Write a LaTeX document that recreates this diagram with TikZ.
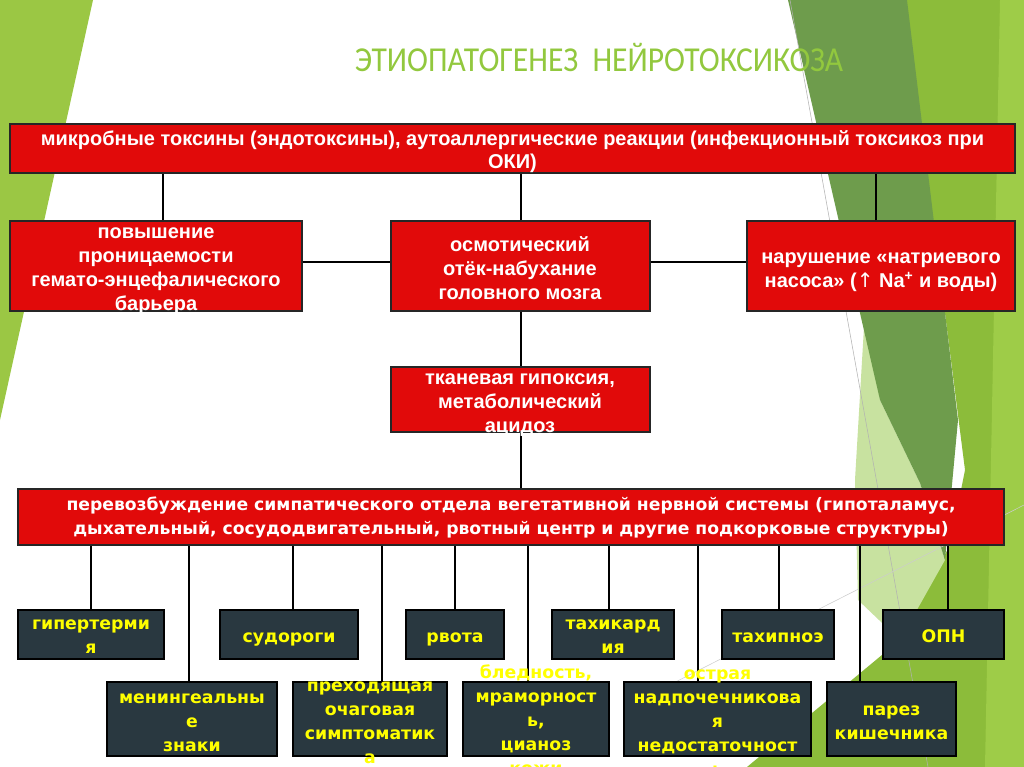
\documentclass[tikz,border=0pt]{standalone}
\usepackage{fontspec}
\usepackage{graphicx}
\usetikzlibrary{fit,calc}
\setmainfont{Liberation Sans}
\newfontfamily\dvfont{DejaVu Sans}
\newfontfamily\carfont{Carlito}
\definecolor{boxred}{RGB}{225,10,10}
\definecolor{boxdark}{RGB}{41,56,64}
\definecolor{ttlgreen}{RGB}{146,200,62}
\definecolor{bgA}{RGB}{155,199,68}
\definecolor{bgDark}{RGB}{110,156,76}
\definecolor{bgBright}{RGB}{140,188,58}
\definecolor{bgLight}{RGB}{158,204,72}
\definecolor{bgPale}{RGB}{200,226,160}
\definecolor{txtyellow}{RGB}{255,255,0}
\newcommand\vconn[3]{\coordinate (tmpc) at ($(#2.north)+(#3,0)$);
  \draw[conn] (tmpc) -- (tmpc |- #1.south);}
\begin{document}
\begin{tikzpicture}[x=0.75pt,y=-0.75pt,
  redbox/.style={draw=black!85, line width=0.9pt, fill=boxred, inner sep=0pt},
  darkbox/.style={draw=black, line width=0.9pt, fill=boxdark, inner sep=0pt},
  redtxt/.style={text=white, font=\bfseries\fontsize{15pt}{18pt}\selectfont, align=center, inner sep=0pt},
  toptxt/.style={text=white, font=\bfseries\fontsize{15pt}{17.5pt}\selectfont, align=center, inner sep=0pt},
  widetxt/.style={text=white, font=\dvfont\bfseries\fontsize{12.9pt}{18pt}\selectfont, align=center, inner sep=0pt},
  yeltxt/.style={text=txtyellow, font=\dvfont\bfseries\fontsize{13pt}{18pt}\selectfont, align=center, inner sep=0pt},
  conn/.style={draw=black, line width=1.5pt}
]
\useasboundingbox (0,0) rectangle (1024,767);
\fill[white] (0,0) rectangle (1024,767);
% background facets
\fill[bgA] (0,0) -- (93,0) -- (0,420) -- cycle;
\fill[bgBright] (905,0) -- (1024,0) -- (1024,767) -- (747,767) -- (900,640) -- (950,545) -- (965,470) -- cycle;
\fill[bgLight] (1000,0) -- (1024,0) -- (1024,767) -- (985,767) -- cycle;
\fill[bgPale] (865,310) -- (880,400) -- (920,483) -- (945,560) -- (900,640) -- (858,600) -- (855,480) -- cycle;
\fill[bgDark] (788,0) -- (907,0) -- (958,420) -- (945,560) -- (920,483) -- (880,400) -- cycle;
\draw[gray!60, line width=0.4pt] (790,0) -- (928,767);
\draw[gray!40, line width=0.4pt] (640,700) -- (1024,505);

% title
\node[anchor=base, text=ttlgreen, inner sep=0pt] (title) at (599,72)
  {\resizebox{366pt}{\height}{\carfont\fontsize{26.25pt}{30pt}\selectfont ЭТИОПАТОГЕНЕЗ\ \ НЕЙРОТОКСИКОЗА}};

% boxes (shapes)
\node[redbox, fit={(10,124)(1015,173)}] (top) {};
\node[redbox, fit={(10,221)(302,311)}] (pl) {};
\node[redbox, fit={(391,221)(650,311)}] (pm) {};
\node[redbox, fit={(747,221)(1015,311)}] (pr) {};
\node[redbox, fit={(391,367)(650,432)}] (hyp) {};
\node[redbox, fit={(18,489)(1004,545)}] (wide) {};

\node[darkbox, fit={(18,610)(164,659)}] (b1) {};
\node[darkbox, fit={(220,610)(358,659)}] (b2) {};
\node[darkbox, fit={(406,610)(504,659)}] (b3) {};
\node[darkbox, fit={(552,610)(674,659)}] (b4) {};
\node[darkbox, fit={(722,610)(834,659)}] (b5) {};
\node[darkbox, fit={(883,610)(1004,659)}] (b6) {};

\node[darkbox, fit={(107,682)(277,756)}] (c1) {};
\node[darkbox, fit={(293,682)(447,756)}] (c2) {};
\node[darkbox, fit={(463,682)(609,756)}] (c3) {};
\node[darkbox, fit={(624,682)(811,756)}] (c4) {};
\node[darkbox, fit={(827,682)(956,756)}] (c5) {};

% connectors
\vconn{top}{pl}{7}
\vconn{top}{pm}{0}
\vconn{top}{pr}{-5}
\draw[conn] ($(pl.east)+(0,-4)$) -- ($(pm.west)+(0,-4)$);
\draw[conn] ($(pm.east)+(0,-4)$) -- ($(pr.west)+(0,-4)$);
\draw[conn] (pm.south) -- (hyp.north);
\draw[conn] (hyp.south) -- (hyp.south |- wide.north);
\vconn{wide}{b1}{0}
\vconn{wide}{c1}{-3}
\vconn{wide}{b2}{4}
\vconn{wide}{c2}{12}
\vconn{wide}{b3}{0}
\vconn{wide}{c3}{-8}
\vconn{wide}{b4}{-4}
\vconn{wide}{c4}{-20}
\vconn{wide}{b5}{1}
\vconn{wide}{c5}{-32}
\vconn{wide}{b6}{4}

% texts
\node[toptxt] (topt) at ($(top.center)+(0,3)$) {микробные токсины (эндотоксины), аутоаллергические реакции (инфекционный токсикоз при\\ОКИ)};
\node[redtxt] (plt) at (156,271) {повышение\\проницаемости\\гемато-энцефалического\\барьера};
\node[redtxt] (pmt) at (520,268) {осмотический\\отёк-набухание\\головного мозга};
\node[redtxt] (prt) at (881,272) {нарушение «натриевого\\насоса» ({\dvfont\mdseries↑} Na\textsuperscript{+} и воды)};
\node[redtxt] (hypt) at (520,405) {тканевая гипоксия,\\метаболический\\ацидоз};
\node[widetxt] (widet) at (511,518) {перевозбуждение симпатического отдела вегетативной нервной системы (гипоталамус,\\дыхательный, сосудодвигательный, рвотный центр и другие подкорковые структуры)};

\node[yeltxt] at ($(b1.center)+(0,2.5)$) {гипертерми\\я};
\node[yeltxt] at ($(b2.center)+(0,5)$) {судороги};
\node[yeltxt] at ($(b3.center)+(0,5)$) {рвота};
\node[yeltxt] at ($(b4.center)+(0,2.5)$) {тахикард\\ия};
\node[yeltxt] at ($(b5.center)+(0,3)$) {тахипноэ};
\node[yeltxt] at ($(b6.center)+(0,2)$) {ОПН};

\node[yeltxt] at ($(c1.center)+(0,4)$) {менингеальны\\е\\знаки};
\node[yeltxt] at ($(c2.center)+(0,4)$) {преходящая\\очаговая\\симптоматик\\а};
\node[yeltxt] at ($(c3.center)+(0,1)$) {бледность,\\мраморност\\ь,\\цианоз\\кожи};
\node[yeltxt] at ($(c4.center)+(0,4)$) {острая\\надпочечникова\\я\\недостаточност\\ь};
\node[yeltxt] at ($(c5.center)+(0,4)$) {парез\\кишечника};
\end{tikzpicture}
\end{document}
